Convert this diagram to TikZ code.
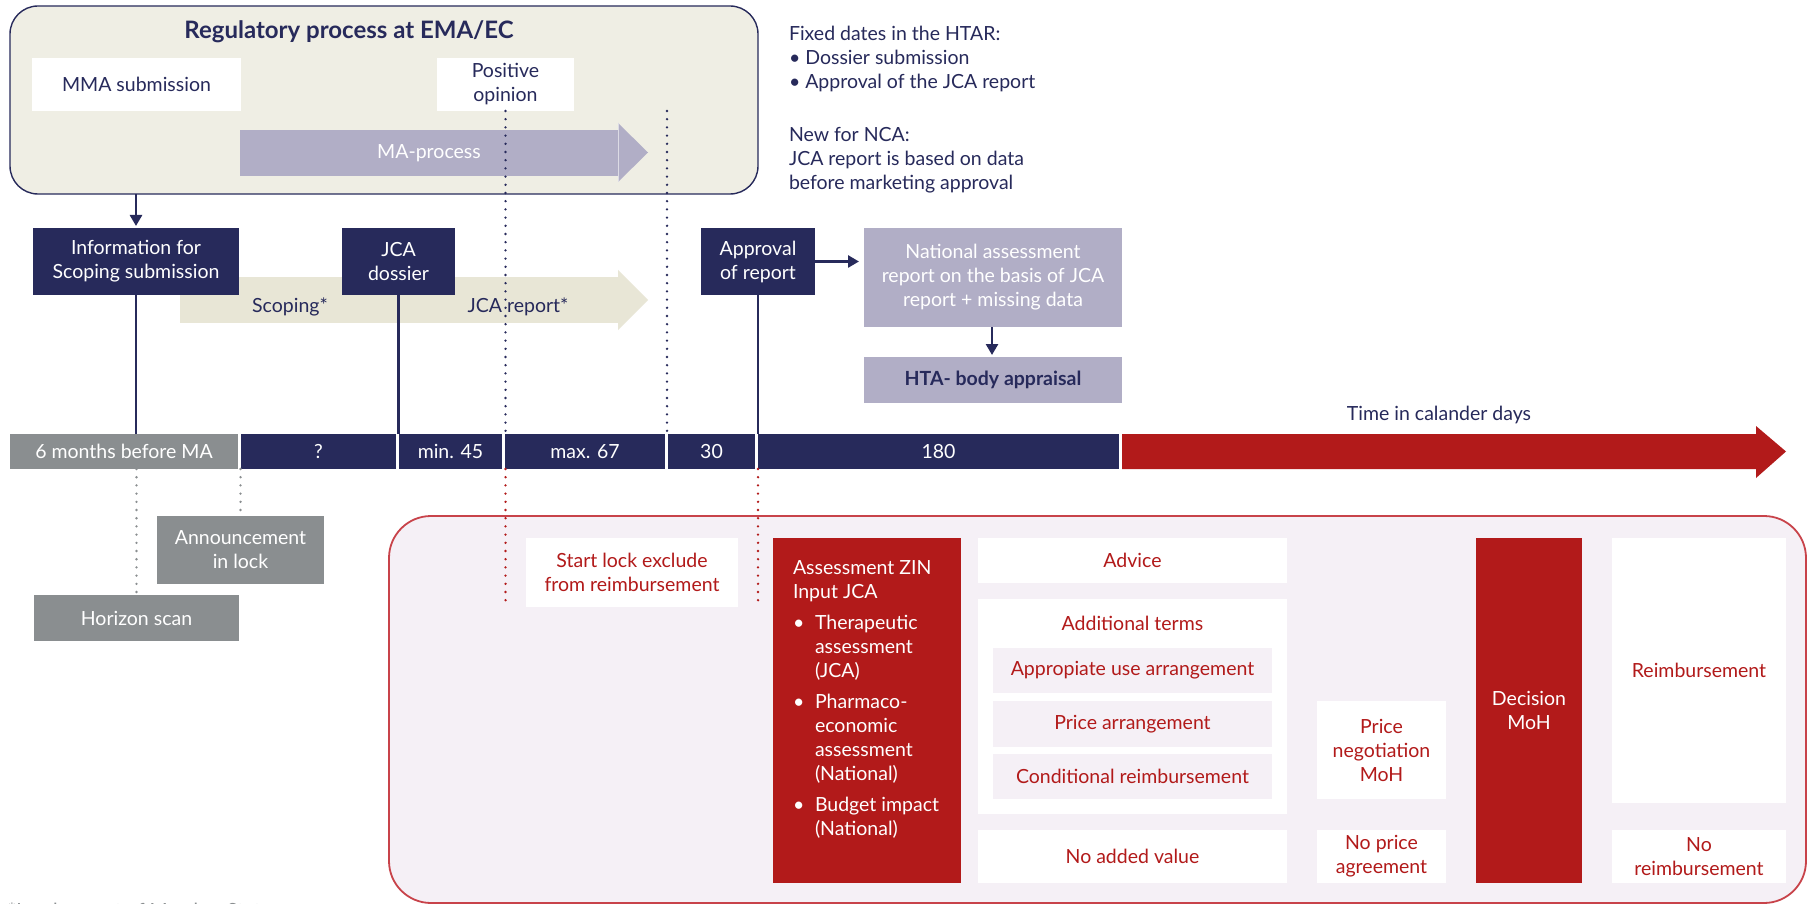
\documentclass[tikz,border=0pt]{standalone}
\usepackage{fontspec}
\setmainfont{Lato}
\usetikzlibrary{arrows.meta}

\definecolor{navy}{HTML}{272A5B}
\definecolor{crimson}{HTML}{B21A1A}
\definecolor{slate}{HTML}{8A8E90}
\definecolor{lav}{HTML}{B1AEC6}
\definecolor{sand}{HTML}{EFEEE4}
\definecolor{sanddark}{HTML}{E8E6D6}
\definecolor{blush}{HTML}{F5F0F6}
\definecolor{redline}{HTML}{C8434A}

\newcommand\fs{\fontsize{19.5}{24}\selectfont}
% box given by its corners: name, style, x1, y1, x2, y2, text
\newcommand\placebox[7]{%
  \node[#2, minimum width={#5pt-#3pt}, minimum height={#6pt-#4pt}]
    (#1) at ({(#3+#5)/2},{(#4+#6)/2}) {#7};}

\begin{document}
\begin{tikzpicture}[x=1pt,y=-1pt,
  base/.style={inner sep=0pt, outer sep=0pt, align=center, font=\fs},
  navybox/.style={base, fill=navy, text=white},
  whitebox/.style={base, fill=white, text=navy},
  lavbox/.style={base, fill=lav, text=white},
  greybox/.style={base, fill=slate, text=white},
  redbox/.style={base, fill=crimson, text=white},
  wred/.style={base, fill=white, text=crimson},
  subbox/.style={base, fill=blush, text=crimson},
  link/.style={draw=navy, line width=2.6pt},
  linkarrow/.style={link, -{Triangle[length=11pt,width=12pt]}},
  dots/.style={line width=2.6pt, line cap=round, dash pattern=on 0pt off 8.2pt},
]
\useasboundingbox (0,0) rectangle (1808,904);
\fill[white] (0,0) rectangle (1808,904);

% ---- regulatory process at EMA/EC ----
\placebox{ema}{base, draw=navy, line width=1.4pt, fill=sand, rounded corners=28pt}{10}{6}{758}{194}{}
\node[base, text=navy, font=\fontsize{24}{28}\selectfont\bfseries] (ematitle) at (349,32) {Regulatory process at EMA/EC};
\placebox{mma}{whitebox}{32}{58}{241}{111}{MMA submission}
\placebox{posop}{whitebox}{437}{58}{574}{111}{Positive\\opinion}
\fill[lav] (240,130) rectangle (618,176);
\fill[lav] (618,123) -- (648,152.5) -- (618,182) -- cycle;
\draw[white!55!lav, line width=0.8pt] (618,123) -- (618,182);
\node[base, text=white] (maproc) at (429,153) {MA-process};

% ---- notes ----
\node[base, align=left, text=navy, anchor=north west] (notes) at (789,26)
  {Fixed dates in the HTAR:\\
   \textbullet\ Dossier submission\\
   \textbullet\ Approval of the JCA report\\[29pt]
   New for NCA:\\
   JCA report is based on data\\
   before marketing approval};

% ---- scoping / JCA report band ----
\fill[sanddark] (180,277) rectangle (618,323);
\fill[sanddark] (618,270) -- (648,300) -- (618,330) -- cycle;
\node[base, text=navy] (scoping) at (290,307) {Scoping*};
\node[base, text=navy] (jcarep) at (518,307) {JCA report*};

% ---- milestones ----
\placebox{info}{navybox}{33}{228}{239}{295}{Information for\\Scoping submission}
\placebox{dossier}{navybox}{342}{228}{455}{295}{JCA\\dossier}
\placebox{appr}{navybox}{701}{228}{815}{295}{Approval\\of report}
\placebox{natass}{lavbox}{864}{228}{1122}{327}{National assessment\\report on the basis of JCA\\report + missing data}
\placebox{hta}{base, fill=lav, text=navy, font=\fs\bfseries}{864}{357}{1122}{403}{HTA- body appraisal}

% ---- time line ----
\placebox{grayseg}{greybox}{10}{434}{238}{469}{6 months before MA}
\placebox{qseg}{navybox}{241}{434}{396}{469}{?}
\placebox{minseg}{navybox}{399}{434}{502}{469}{min. 45}
\placebox{maxseg}{navybox}{505}{434}{665}{469}{max. 67}
\placebox{thirty}{navybox}{668}{434}{755}{469}{30}
\placebox{oneeighty}{navybox}{758}{434}{1119}{469}{180}
\fill[crimson] (1122,434) -- (1756,434) -- (1756,426) -- (1786,451.5)
  -- (1756,478) -- (1756,469) -- (1122,469) -- cycle;
\node[base, text=navy] (timelabel) at (1439,415) {Time in calander days};

% ---- national procedure ----
\placebox{nca}{base, draw=redline, line width=1.8pt, fill=blush, rounded corners=42pt}{389}{516}{1806}{903}{}
\placebox{announce}{greybox}{157}{516}{324}{584}{Announcement\\in lock}
\placebox{horizon}{greybox}{34}{595}{239}{641}{Horizon scan}
\placebox{startlock}{wred}{526}{538}{738}{607}{Start lock exclude\\from reimbursement}
\placebox{zin}{redbox}{773}{538}{961}{883}{}
\node[base, align=left, text=white, anchor=north west] (zintext) at (793,561)
  {Assessment ZIN\\
   Input JCA\\[7pt]
   \makebox[22pt][l]{\textbullet}Therapeutic\\
   \hspace*{22pt}assessment\\
   \hspace*{22pt}(JCA)\\[7pt]
   \makebox[22pt][l]{\textbullet}Pharmaco-\\
   \hspace*{22pt}economic\\
   \hspace*{22pt}assessment\\
   \hspace*{22pt}(National)\\[7pt]
   \makebox[22pt][l]{\textbullet}Budget impact\\
   \hspace*{22pt}(National)};
\placebox{advice}{wred}{978}{538}{1287}{583}{Advice}
\placebox{terms}{wred}{978}{599}{1287}{814}{}
\node[base, text=crimson] (termstitle) at (1132.5,623) {Additional terms};
\placebox{usearr}{subbox}{993}{648}{1272}{693}{Appropiate use arrangement}
\placebox{pricearr}{subbox}{993}{701}{1272}{747}{Price arrangement}
\placebox{condreimb}{subbox}{993}{754}{1272}{799}{Conditional reimbursement}
\placebox{noadded}{wred}{978}{830}{1287}{883}{No added value}
\placebox{pricenego}{wred}{1317}{701}{1446}{799}{Price\\negotiation\\MoH}
\placebox{noprice}{wred}{1317}{830}{1446}{883}{No price\\agreement}
\placebox{decision}{redbox}{1476}{538}{1582}{883}{Decision\\MoH}
\placebox{reimb}{wred}{1612}{538}{1786}{803}{Reimbursement}
\placebox{noreimb}{wred}{1612}{830}{1786}{883}{No\\reimbursement}

% ---- connectors ----
\draw[linkarrow, shorten >=2pt] (ema.south -| info.north) -- (info.north);
\draw[linkarrow, shorten >=5pt] (appr.east) -- (natass.west |- appr.east);
\draw[linkarrow, shorten >=2pt] (natass.south -| 992,0) -- (hta.north -| 992,0);
\draw[link] (info.south) -- (info.south |- grayseg.north);
\draw[link] (dossier.south) -- (dossier.south |- minseg.north);
\draw[link] (appr.south) -- (appr.south |- oneeighty.north);

% dotted markers
\coordinate (madate) at (667,111);
\draw[dots, navy] (posop.south) -- (posop.south |- maxseg.north);
\draw[dots, navy] (madate) -- (madate |- thirty.north);
\draw[dots, crimson] (posop.south |- maxseg.south) -- (posop.south |- startlock.south);
\draw[dots, crimson] (appr.south |- oneeighty.south) -- (appr.south |- startlock.south);
\draw[dots, slate] (horizon.north |- grayseg.south) -- (horizon.north);
\draw[dots, slate] (announce.north |- grayseg.south) -- (announce.north);

% footnote, running off the lower edge
\node[base, text=slate, anchor=base west] (footnote) at (8,917) {*Involvement of Member States};
\end{tikzpicture}
\end{document}
